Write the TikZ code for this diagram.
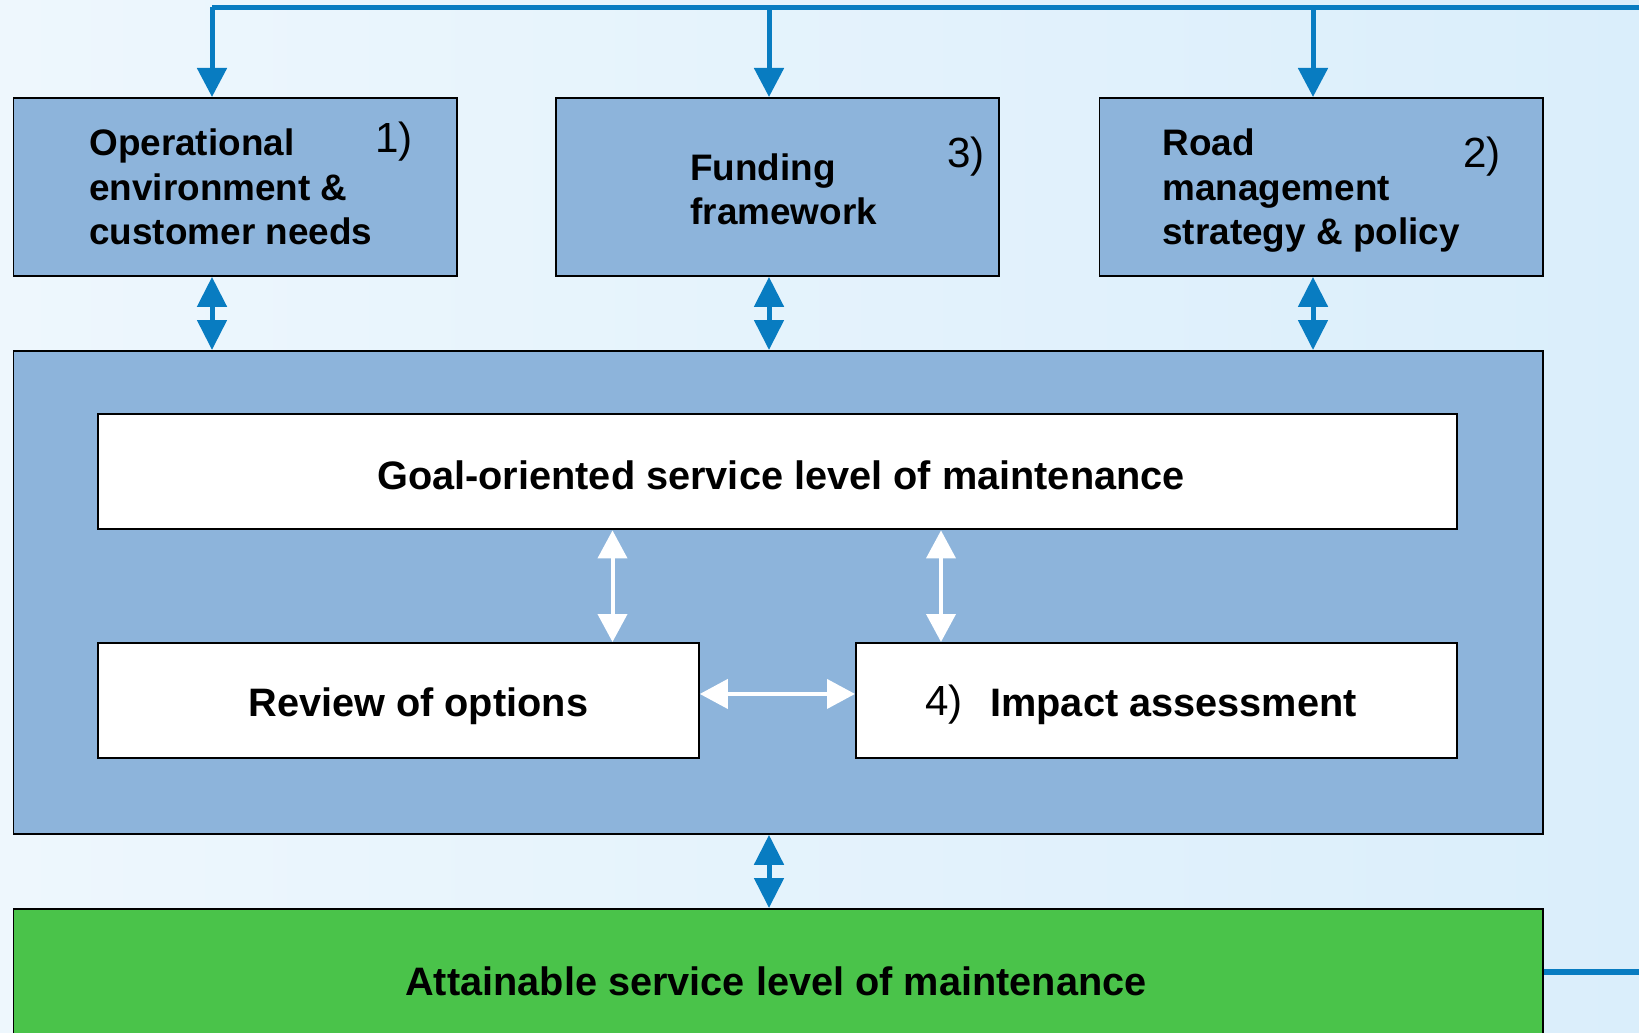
\documentclass[tikz,border=0pt]{standalone}
\usepackage{fontspec}
\setmainfont{Liberation Sans}
\usetikzlibrary{arrows.meta}

\definecolor{bgpale}{RGB}{238,247,253}
\definecolor{bgblue}{RGB}{218,238,251}
\definecolor{boxblue}{RGB}{141,180,219}
\definecolor{linkblue}{RGB}{8,124,193}
\definecolor{okgreen}{RGB}{74,195,74}

\tikzset{
  panel/.style={draw=black, line width=1.1pt, fill=boxblue, inner sep=0pt, anchor=north west},
  whitepanel/.style={panel, fill=white},
  feedline/.style={linkblue, line width=0.11cm},
  downarrow/.style={linkblue, line width=0.1cm, -{Triangle[width=0.58cm,length=0.58cm]}},
  twoway/.style={linkblue, line width=0.1cm, {Triangle[width=0.58cm,length=0.6cm]}-{Triangle[width=0.58cm,length=0.6cm]}},
  whiteway/.style={white, line width=0.08cm, {Triangle[width=0.58cm,length=0.56cm]}-{Triangle[width=0.58cm,length=0.56cm]}},
  boxtext/.style={font=\fontsize{21}{25.6}\selectfont\bfseries, align=left, inner sep=0pt},
  bigtext/.style={font=\fontsize{22.6}{27}\selectfont\bfseries, inner sep=0pt},
  numtext/.style={font=\fontsize{24}{28}\selectfont, inner sep=0pt}
}

\begin{document}
\begin{tikzpicture}[x=0.02cm, y=-0.02cm]
        \useasboundingbox (0,0) rectangle (1639,1033);
        \clip (0,0) rectangle (1639,1033);

        % Background
        \fill[left color=bgpale, right color=bgblue] (0,0) rectangle (1639,1033);

        % Three input boxes
        \node[panel, minimum width=8.87cm, minimum height=3.56cm] (env) at (12.5,97) {};
        \node[panel, minimum width=8.87cm, minimum height=3.56cm] (fund) at (555,97) {};
        \node[panel, minimum width=8.87cm, minimum height=3.56cm] (road) at (1098.5,97) {};

        % (base anchor = last line)
        \node[boxtext, anchor=base west] (envtxt) at (89,245) {Operational\\environment \&\\customer needs};
        \node[numtext, anchor=base west] (envnum) at (375,153) {1)};
        \node[boxtext, anchor=base west] (fundtxt) at (690,225) {Funding\\framework};
        \node[numtext, anchor=base west] (fundnum) at (947,168) {3)};
        \node[boxtext, anchor=base west] (roadtxt) at (1162,245) {Road\\management\\strategy \& policy};
        \node[numtext, anchor=base west] (roadnum) at (1463,168) {2)};

        % Main box with the three white boxes
        \node[panel, minimum width=30.59cm, minimum height=9.66cm] (main) at (12.5,350) {};
        \node[whitepanel, minimum width=27.18cm, minimum height=2.3cm] (goal) at (97,413.5) {};
        \node[whitepanel, minimum width=12.02cm, minimum height=2.3cm] (review) at (97,642) {};
        \node[whitepanel, minimum width=12.02cm, minimum height=2.3cm] (impact) at (855,642) {};

        \node[bigtext, anchor=base] (goaltxt) at (781,490) {Goal-oriented service level of maintenance};
        \node[bigtext, anchor=base west] (reviewtxt) at (248,716) {Review of options};
        \node[numtext, anchor=base west] (impactnum) at (925,715) {4)};
        \node[bigtext, anchor=base west] (impacttxt) at (990,716) {Impact assessment};

        % Result box
        \node[panel, fill=okgreen, minimum width=30.59cm, minimum height=3cm] (attain) at (12.5,908) {};
        \node[bigtext, anchor=base] (attaintxt) at (776,995) {Attainable service level of maintenance};

        % Feed line on top
        \coordinate (feed) at (1639,7.5);
        \coordinate (d1) at (212,7.5);
        \coordinate (d2) at (769,7.5);
        \coordinate (d3) at (1313,7.5);
        \draw[feedline] (feed) -- (d1);
        \draw[downarrow] (d1) -- (d1 |- env.north);
        \draw[downarrow] (d2) -- (d2 |- fund.north);
        \draw[downarrow] (d3) -- (d3 |- road.north);

        % Links to the main box and below
        \draw[twoway] (d1 |- env.south) -- (d1 |- main.north);
        \draw[twoway] (d2 |- fund.south) -- (d2 |- main.north);
        \draw[twoway] (d3 |- road.south) -- (d3 |- main.north);
        \draw[twoway] (d2 |- main.south) -- (d2 |- attain.north);

        % White links inside
        \coordinate (w1) at (612.5,0);
        \coordinate (w2) at (941,0);
        \draw[whiteway] (w1 |- goal.south) -- (w1 |- review.north);
        \draw[whiteway] (w2 |- goal.south) -- (w2 |- impact.north);
        \draw[whiteway] ([yshift=0.13cm]review.east) -- ([yshift=0.13cm]impact.west);

        % Exit line on the right
        \coordinate (exit) at (1639,972);
        \draw[feedline] (attain.east |- exit) -- (exit);
    \end{tikzpicture}
\end{document}
